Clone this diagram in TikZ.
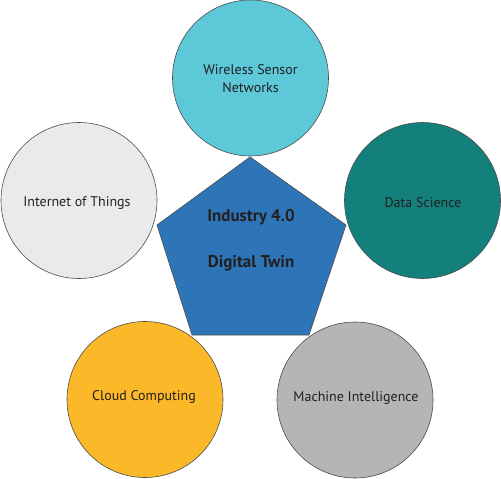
\documentclass[tikz,border=0pt]{standalone}
\usepackage{fontspec}
\setmainfont{PT Sans}
\definecolor{cwsn}{HTML}{5CC8D8}
\definecolor{cds}{HTML}{13807C}
\definecolor{ciot}{HTML}{EAEAEA}
\definecolor{ccc}{HTML}{FBB829}
\definecolor{cmi}{HTML}{B3B5B6}
\definecolor{cpent}{HTML}{2E75B8}
\definecolor{ctext}{HTML}{231F20}
\begin{document}
\begin{tikzpicture}[x=1pt,y=-1pt,
  bubble/.style={circle,draw=black!70,line width=0.6pt,minimum size=156pt,inner sep=0pt,
    align=center,font=\fontsize{14}{18}\selectfont,text=ctext},
  centertext/.style={align=center,font=\bfseries\fontsize{17}{20}\selectfont,text=ctext}]
\useasboundingbox (0,0) rectangle (501,479);
% pentagon
\coordinate (pa) at (250,157);
\coordinate (pb) at (346,225);
\coordinate (pc) at (309,335);
\coordinate (pd) at (192,335);
\coordinate (pe) at (157,225);
\filldraw[fill=cpent,draw=black!70,line width=0.6pt] (pa) -- (pb) -- (pc) -- (pd) -- (pe) -- cycle;
\node[centertext] (ind) at (251,217) {Industry 4.0};
\node[centertext] (dt) at (251,263) {Digital Twin};
% circles
\node[bubble,fill=cwsn] (wsn) at (250.5,78) {};
\node[align=center,font=\fontsize{14}{18}\selectfont,text=ctext] (wsnt) at (250.5,79) {Wireless Sensor\\Networks};
\node[bubble,fill=ciot] (iot) at (79,200.5) {};
\node[font=\fontsize{14}{18}\selectfont,text=ctext] (iott) at (77,203) {Internet of Things};
\node[bubble,fill=cds] (ds) at (422.5,200.5) {};
\node[font=\fontsize{14}{18}\selectfont,text=ctext] (dst) at (423,203) {Data Science};
\node[bubble,fill=ccc] (cc) at (145,399.5) {};
\node[font=\fontsize{14}{18}\selectfont,text=ctext] (cct) at (144,397) {Cloud Computing};
\node[bubble,fill=cmi] (mi) at (355,400) {};
\node[font=\fontsize{14}{18}\selectfont,text=ctext] (mit) at (356,398) {Machine Intelligence};
\end{tikzpicture}
\end{document}
